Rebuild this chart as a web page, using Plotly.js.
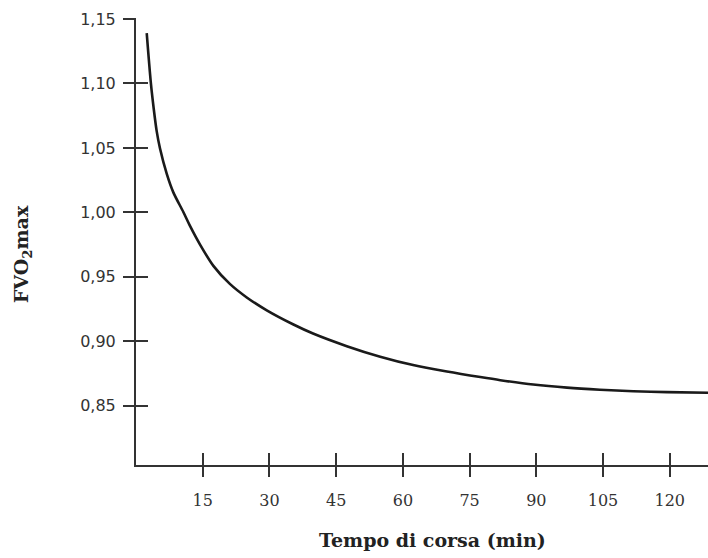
<!DOCTYPE html>
<html>
<head>
<meta charset="utf-8">
<script src="https://cdn.plot.ly/plotly-3.0.1.min.js"></script>
<style>html,body{margin:0;padding:0;background:#fff;}#chart{width:708px;height:558px;}</style>
</head>
<body>
<div id="chart"></div>
<script>
// Running time (min) and fraction of VO2max
const tempo = [2.41, 3.35, 4.0, 4.65, 5.40, 6.90, 8.39, 10.64, 12.14, 14.4, 17.4, 21.1, 24.9, 29.4, 35.4, 39.8, 47.4, 54.9, 62.3, 69.9, 77.4, 81.9, 89.3, 96.9, 104.3, 111.8, 119.4, 128.6];
const fvo2 = [1.139, 1.100, 1.080, 1.063, 1.0495, 1.030, 1.0155, 1.0003, 0.9895, 0.9750, 0.9585, 0.9445, 0.934, 0.924, 0.913, 0.906, 0.8962, 0.888, 0.8815, 0.8765, 0.8722, 0.8698, 0.8664, 0.8640, 0.8624, 0.8612, 0.8605, 0.8600];
const xTicks = [15, 30, 45, 60, 75, 90, 105, 120];
const yTicks = [0.85, 0.90, 0.95, 1.00, 1.05, 1.10, 1.15];
const xTitle = 'Tempo di corsa (min)';
const yTitle = 'FVO<sub>2</sub>max';

const xRange = [0, 128.6];
const yRange = [0.804, 1.15];
const axisColor = '#333';

const traces = [
  {x: tempo, y: fvo2, type: 'scatter', mode: 'lines', line: {color: '#1a1a1a', width: 2.6, shape: 'spline', smoothing: 0.8}, hoverinfo: 'skip'},
  {x: tempo, y: fvo2, xaxis: 'x2', yaxis: 'y2', type: 'scatter', mode: 'lines', line: {color: 'rgba(0,0,0,0)', width: 0}, hoverinfo: 'skip'}
];

const layout = {
  width: 708, height: 558,
  margin: {l: 136, r: 0, t: 19, b: 93, pad: 0},
  paper_bgcolor: '#fff', plot_bgcolor: 'rgba(0,0,0,0)',
  showlegend: false,
  separators: ',.',
  xaxis: {
    range: xRange, showgrid: false, zeroline: false,
    showline: true, linecolor: axisColor, linewidth: 2,
    ticks: 'outside', ticklen: 10, tickwidth: 2, tickcolor: axisColor,
    tickvals: xTicks, ticklabelstandoff: 10,
    tickfont: {family: 'DejaVu Serif', size: 16, color: '#333'}
  },
  yaxis: {
    range: yRange, showgrid: false, zeroline: false,
    showline: true, linecolor: axisColor, linewidth: 2,
    ticks: 'inside', ticklen: 12, tickwidth: 2, tickcolor: axisColor,
    tickvals: yTicks, showticklabels: false
  },
  xaxis2: {
    overlaying: 'x', anchor: 'y', side: 'bottom', range: xRange, showgrid: false, zeroline: false,
    showline: false, ticks: 'inside', ticklen: 12, tickwidth: 2, tickcolor: axisColor,
    tickvals: xTicks, showticklabels: false
  },
  yaxis2: {
    overlaying: 'y', anchor: 'free', position: 0, side: 'left', range: yRange, showgrid: false, zeroline: false,
    showline: false, ticks: 'outside', ticklen: 13, tickwidth: 2, tickcolor: axisColor,
    tickvals: yTicks, tickformat: '.2f', ticklabelstandoff: 4,
    tickfont: {family: 'DejaVu Sans', size: 16, color: '#333'}
  },
  annotations: [
    {text: '<b>' + xTitle + '</b>', xref: 'paper', yref: 'paper', x: 0.5175, y: -0.168, xanchor: 'center', yanchor: 'middle', showarrow: false,
     font: {family: 'DejaVu Serif', size: 19, color: '#222'}},
    {text: '<b>' + yTitle + '</b>', xref: 'paper', yref: 'paper', x: -0.199, y: 0.473, xanchor: 'center', yanchor: 'middle', showarrow: false, textangle: -90,
     font: {family: 'DejaVu Serif', size: 19, color: '#222'}}
  ]
};

Plotly.newPlot('chart', traces, layout, {displayModeBar: false, staticPlot: true});
</script>
</body>
</html>
